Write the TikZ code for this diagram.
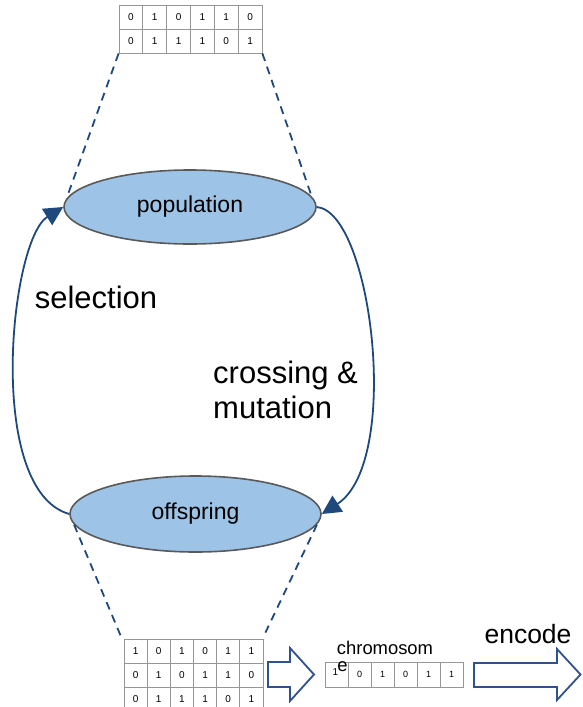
\documentclass[tikz,border=0pt]{standalone}
\usepackage{fontspec}
\setmainfont{Liberation Sans}
\usetikzlibrary{arrows.meta,shapes.geometric}

\definecolor{navy}{RGB}{31,73,125}
\definecolor{boxblue}{RGB}{47,82,143}
\definecolor{cellfill}{RGB}{157,195,230}
\definecolor{rimgray}{RGB}{89,89,89}
\definecolor{gridgray}{RGB}{150,150,150}

\tikzset{
  pool/.style={ellipse, draw=rimgray, line width=1.6pt, fill=cellfill,
    inner sep=0pt, font=\fontsize{23}{28}\selectfont},
  bitcell/.style={draw=gridgray, line width=0.8pt, inner sep=0pt,
    font=\fontsize{10}{12}\selectfont},
  zoomline/.style={draw=navy, line width=1.8pt, dash pattern=on 8pt off 6pt},
  cycleline/.style={draw=navy, line width=1.8pt,
    -{Triangle[length=19pt,width=19pt]}},
  blockarrow/.style={draw=boxblue, line width=1.8pt, fill=white, line join=miter},
  bigtext/.style={font=\fontsize{31}{35}\selectfont, inner sep=0pt},
}

\begin{document}
\begin{tikzpicture}[x=1pt,y=-1pt]
\useasboundingbox (0,0) rectangle (582,707);

% population and offspring pools
\node[pool, minimum width=252pt, minimum height=74pt] (pop) at (190,207) {population};
\node[pool, minimum width=251pt, minimum height=76pt] (off) at (195.5,514) {offspring};

% population bit strings
\foreach \row [count=\r] in {{0,1,0,1,1,0},{0,1,1,1,0,1}} {
  \foreach \d [count=\c] in \row {
    \node[bitcell, minimum width=23.83pt, minimum height=24pt]
      (top-\r-\c) at ({119+(\c-0.5)*23.83},{5+(\r-0.5)*24}) {\d};
  }
}

% offspring bit strings
\foreach \row [count=\r] in {{1,0,1,0,1,1},{0,1,0,1,1,0},{0,1,1,1,0,1}} {
  \foreach \d [count=\c] in \row {
    \node[bitcell, minimum width=23.17pt, minimum height=24pt]
      (bot-\r-\c) at ({124+(\c-0.5)*23.17},{639+(\r-0.5)*24}) {\d};
  }
}

% single chromosome
\node[bitcell, minimum width=23pt, minimum height=25pt] (chr-1) at (336.5,674.5) {};
\node[font=\fontsize{10}{12}\selectfont, inner sep=0pt] (chr-one) at (335.5,672) {1};
\foreach \d [count=\c from 2] in {0,1,0,1,1} {
  \node[bitcell, minimum width=23pt, minimum height=25pt,
    font=\fontsize{9}{11}\selectfont]
    (chr-\c) at ({325+(\c-0.5)*23},674.5) {\d};
}
\node[font=\fontsize{18.4}{22}\selectfont, inner sep=0pt] (chrlabel) at (385,648) {chromosom};
\node[font=\fontsize{18.4}{22}\selectfont, inner sep=0pt] (chrtail) at (342.5,666.5) {e};

% zoom-in lines from the pools to their bit strings
\draw[zoomline] (top-2-1.south west) -- (pop.176);
\draw[zoomline] (top-2-6.south east) -- (pop.5);
\draw[zoomline] (off.185) -- ([shift={(-3pt,3pt)}]bot-1-1.north west);
\draw[zoomline] (off.355) -- ([shift={(2pt,6pt)}]bot-1-6.north east);

% evolution cycle
\draw[cycleline] (off.west) .. controls (-15,490) and (10,240) .. (pop.west);
\draw[cycleline] (pop.east) .. controls (372,212) and (402,462) .. (off.east);

\node[bigtext] (sel) at (96,297) {selection};
\node[bigtext, align=left, anchor=west] (cross) at (213,390) {crossing \&\\mutation};

% block arrows
\draw[blockarrow] (268,662) -- (290,662) -- (290,648) -- (314,674.5)
  -- (290,701) -- (290,687) -- (268,687) -- cycle;
\draw[blockarrow] (474,663) -- (557,663) -- (557,649) -- (580.5,674.5)
  -- (557,700) -- (557,687) -- (474,687) -- cycle;
\node[font=\fontsize{26.5}{30}\selectfont, inner sep=0pt] (enc) at (528,634) {encode};
\end{tikzpicture}
\end{document}
